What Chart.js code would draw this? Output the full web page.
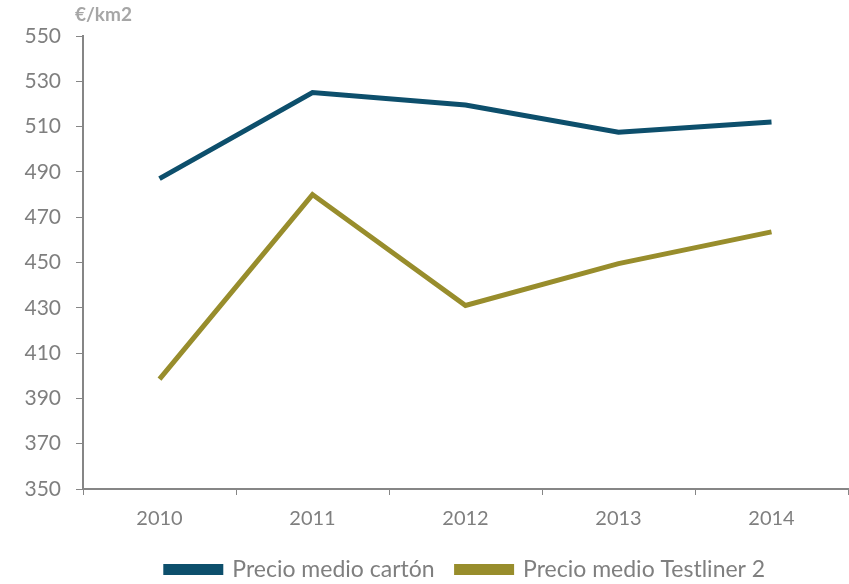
<!DOCTYPE html>
<html>
<head>
<meta charset="utf-8">
<script src="https://cdn.jsdelivr.net/npm/chart.js@4.4.1/dist/chart.umd.min.js"></script>
<style>
  html, body { margin: 0; padding: 0; background: #fff; }
  #wrap { width: 849px; height: 584px; }
</style>
</head>
<body>
<div id="wrap"><canvas id="c" width="849" height="584"></canvas></div>
<script>
// data
const years = ['2010', '2011', '2012', '2013', '2014'];
const cartonValues = [487, 525, 519.5, 507.5, 512];
const testlinerValues = [398.5, 480, 431, 449.5, 463.5];
const unitLabel = '€/km2';

const gray = '#7f7f7f';
const axisGray = '#868686';

// unit text above the y axis
const unitPlugin = {
  id: 'unitLabel',
  afterDraw(chart) {
    const ctx = chart.ctx;
    ctx.save();
    ctx.font = 'bold 19px Lato';
    ctx.fillStyle = '#a6a6a6';
    ctx.textAlign = 'left';
    ctx.textBaseline = 'middle';
    ctx.fillText(unitLabel, chart.chartArea.left - 8, 15);
    ctx.restore();
  }
};

new Chart(document.getElementById('c'), {
  type: 'line',
  data: {
    labels: years,
    datasets: [
      {
        label: 'Precio medio cartón',
        data: cartonValues,
        borderColor: '#0d4f6c',
        backgroundColor: '#0d4f6c',
        borderWidth: 5,
        pointRadius: 0,
        tension: 0
      },
      {
        label: 'Precio medio Testliner 2',
        data: testlinerValues,
        borderColor: '#988d2c',
        backgroundColor: '#988d2c',
        borderWidth: 5,
        pointRadius: 0,
        tension: 0
      }
    ]
  },
  options: {
    responsive: false,
    animation: false,
    layout: { padding: { top: 36, right: 1, bottom: 0, left: 0 } },
    plugins: {
      legend: {
        position: 'bottom',
        fullSize: false,
        maxHeight: 48,
        labels: {
          boxWidth: 55,
          boxHeight: 6,
          padding: 22,
          color: gray,
          font: { family: 'Lato', size: 23 }
        }
      },
      tooltip: { enabled: false }
    },
    scales: {
      x: {
        offset: true,
        grid: { drawOnChartArea: false, drawTicks: true, tickLength: 6, color: axisGray, offset: true },
        border: { color: axisGray, width: 2 },
        ticks: { color: gray, padding: 12, font: { family: 'Lato', size: 20 } },
        afterFit(scale) { scale.height = 47; }
      },
      y: {
        min: 350,
        max: 550,
        grid: { drawOnChartArea: false, drawTicks: true, tickLength: 7, color: axisGray },
        border: { color: axisGray, width: 2 },
        ticks: { stepSize: 20, color: gray, padding: 15, font: { family: 'Lato', size: 21 } },
        afterFit(scale) { scale.width = 83; }
      }
    }
  },
  plugins: [unitPlugin]
});
</script>
</body>
</html>
